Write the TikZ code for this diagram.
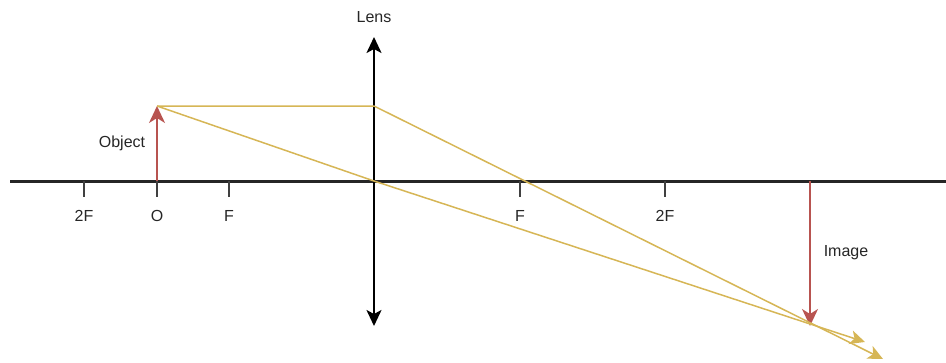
\documentclass[tikz,border=0pt]{standalone}
\usepackage{fontspec}
\setmainfont{Liberation Sans}
\usetikzlibrary{arrows.meta}
\definecolor{raycol}{HTML}{D6B656}
\definecolor{objcol}{HTML}{B85450}
\tikzset{
  axisline/.style={line width=3pt, black!85},
  tickmark/.style={line width=2pt, black!75},
  ticklabel/.style={font=\fontsize{16}{19}\selectfont, text=black!85},
  lensline/.style={line width=2pt, {Stealth[length=16pt,width=15pt,inset=4pt]}-{Stealth[length=16pt,width=15pt,inset=4pt]}},
  objarrow/.style={objcol, line width=1.6pt, -{Stealth[length=17pt,width=16pt,inset=5pt]}},
  ray/.style={raycol, line width=1.5pt, -{Stealth[length=15pt,width=14pt,inset=4pt]}}
}
\begin{document}
\begin{tikzpicture}[x=1pt,y=-1pt]
\useasboundingbox (0,0) rectangle (946,362);
% Principal axis
\coordinate (axl) at (10,181);
\coordinate (axr) at (946,181);
\draw[axisline] (axl) -- (axr);
% Ticks and labels
\foreach \name/\xx/\lbl in {tfl/84/2F, ol/157/O, fl/229/F, fr/520/F, tfr/665/2F} {
  \coordinate (\name) at (\xx,181);
  \draw[tickmark] (\name) -- ++(0,16);
  \node[ticklabel] (\name-lbl) at (\xx,216) {\lbl};
}
% Lens
\coordinate (lenstop) at (374,37);
\coordinate (lensbot) at (374,326);
\coordinate (lensmid) at (374,181);
\draw[lensline] (lensbot) -- (lenstop);
\node[ticklabel] (lens-lbl) at (374,17) {Lens};
% Object and image
\coordinate (objtip) at (157,106);
\coordinate (imgbase) at (810,181);
\coordinate (imgtip) at (810,326);
\draw[objarrow] (ol) -- (objtip);
\draw[objarrow] (imgbase) -- (imgtip);
\node[ticklabel] (obj-lbl) at (122,143) {Object};
\node[ticklabel] (img-lbl) at (846,253) {Image};
% Rays
\coordinate (lenshit) at (374,106);
\coordinate (rayend1) at (883,359);
\coordinate (rayend2) at (865,342);
\draw[ray] (objtip) -- (lenshit) -- (rayend1);
\draw[ray] (objtip) -- (lensmid) -- (rayend2);
\end{tikzpicture}
\end{document}
